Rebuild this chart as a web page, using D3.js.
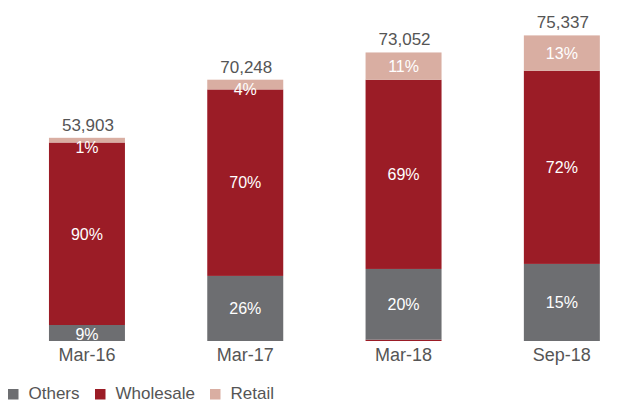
<!DOCTYPE html>
<html>
<head>
<meta charset="utf-8">
<script src="https://cdn.jsdelivr.net/npm/d3@7"></script>
<style>
  html, body { margin: 0; padding: 0; background: #fff; }
  svg { display: block; font-family: "Liberation Sans", Arial, sans-serif; }
</style>
</head>
<body>
<svg id="chart" width="631" height="418"></svg>
<script>
// ---- data ----
const categories = ["Mar-16", "Mar-17", "Mar-18", "Sep-18"];
const totals = ["53,903", "70,248", "73,052", "75,337"];
const series = ["Others", "Wholesale", "Retail"];
// plotted segment sizes
const wholesaleBase = [0, 0, 320, 0];
const others = [3950, 16060, 17460, 19020];
const wholesale = [45030, 46020, 46680, 47670];
const retail = [1160, 2400, 6740, 8720];
// percentage labels
const othersPct = ["9%", "26%", "20%", "15%"];
const wholesalePct = ["90%", "70%", "69%", "72%"];
const retailPct = ["1%", "4%", "11%", "13%"];

const colors = { Others: "#6d6e71", Wholesale: "#9b1c26", Retail: "#d9aea2" };
const textColor = "#555555";

const svg = d3.select("#chart");
const baseY = 341;

const x = d3.scaleBand()
  .domain(categories)
  .range([7.8, 641])
  .paddingInner(0.52)
  .paddingOuter(0.26);

const y = d3.scaleLinear()
  .domain([0, 75337])
  .range([baseY, 35.7]);

// build stacked rows
const rows = categories.map((c, i) => ({
  cat: c,
  base: wholesaleBase[i],
  Others: others[i],
  Wholesale: wholesale[i],
  Retail: retail[i],
  pct: { Others: othersPct[i], Wholesale: wholesalePct[i], Retail: retailPct[i] },
  total: totals[i]
}));

// base sliver (wholesale colour under Others)
svg.append("g").selectAll("rect.base")
  .data(rows.filter(d => d.base > 0))
  .join("rect")
  .attr("x", d => x(d.cat))
  .attr("width", x.bandwidth())
  .attr("y", d => y(d.base))
  .attr("height", d => y(0) - y(d.base))
  .attr("fill", colors.Wholesale);

const segs = [];
rows.forEach(r => {
  let acc = r.base;
  series.forEach(s => {
    segs.push({ cat: r.cat, key: s, y0: acc, y1: acc + r[s], label: r.pct[s] });
    acc += r[s];
  });
  r.top = acc;
});

svg.append("g").selectAll("rect.seg")
  .data(segs)
  .join("rect")
  .attr("x", d => x(d.cat))
  .attr("width", x.bandwidth())
  .attr("y", d => y(d.y1))
  .attr("height", d => y(d.y0) - y(d.y1))
  .attr("fill", d => colors[d.key]);

// percent labels
svg.append("g").selectAll("text.pct")
  .data(segs)
  .join("text")
  .attr("x", d => x(d.cat) + x.bandwidth() / 2)
  .attr("y", d => {
    const top = y(d.y1), bot = y(d.y0);
    const c = Math.max((top + bot) / 2, top + 9.5);
    return c;
  })
  .attr("dy", "0.36em")
  .attr("text-anchor", "middle")
  .attr("fill", "#ffffff")
  .attr("font-size", 16)
  .text(d => d.label);

// totals
svg.append("g").selectAll("text.total")
  .data(rows)
  .join("text")
  .attr("x", d => x(d.cat) + x.bandwidth() / 2 + 1)
  .attr("y", d => y(d.top) - 7)
  .attr("text-anchor", "middle")
  .attr("fill", textColor)
  .attr("font-size", 17)
  .text(d => d.total);

// x axis
const ax = svg.append("g")
  .attr("transform", `translate(0,${baseY})`)
  .call(d3.axisBottom(x).tickSize(0));
ax.select(".domain").remove();
ax.selectAll("text")
  .attr("y", 19.7)
  .attr("dy", 0)
  .attr("fill", textColor)
  .attr("font-size", 18)
  .attr("font-family", "Liberation Sans, Arial, sans-serif");

// legend
const legendX = [8, 95, 210];
const lg = svg.append("g").selectAll("g")
  .data(series)
  .join("g")
  .attr("transform", (d, i) => `translate(${legendX[i]},389)`);
lg.append("rect")
  .attr("width", 10.5).attr("height", 10.5)
  .attr("fill", d => colors[d]);
lg.append("text")
  .attr("x", 20.5)
  .attr("y", 10.3)
  .attr("fill", textColor)
  .attr("font-size", 17)
  .text(d => d);
</script>
</body>
</html>
